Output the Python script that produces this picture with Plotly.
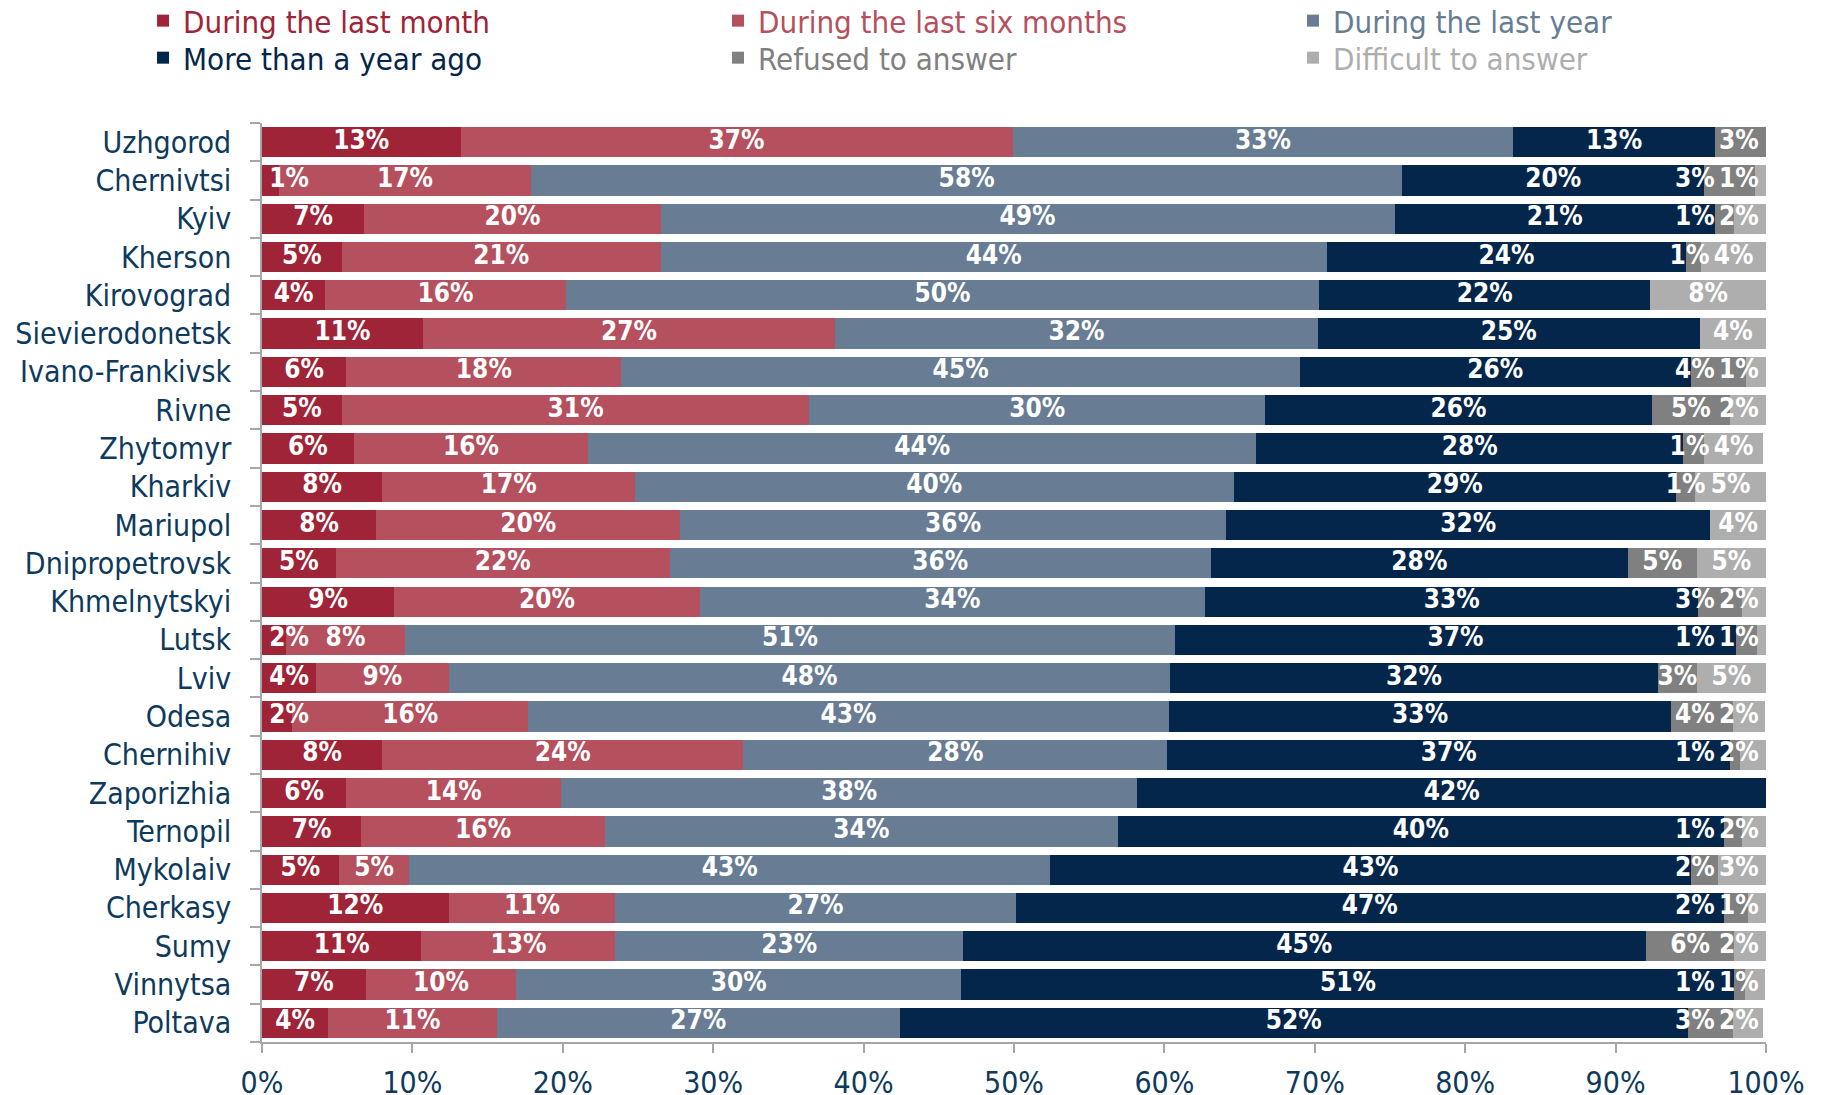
import plotly.graph_objects as go

cities = ["Uzhgorod", "Chernivtsi", "Kyiv", "Kherson", "Kirovograd", "Sievierodonetsk",
          "Ivano-Frankivsk", "Rivne", "Zhytomyr", "Kharkiv", "Mariupol", "Dnipropetrovsk",
          "Khmelnytskyi", "Lutsk", "Lviv", "Odesa", "Chernihiv", "Zaporizhia", "Ternopil",
          "Mykolaiv", "Cherkasy", "Sumy", "Vinnytsa", "Poltava"]

last_month = [13.2, 1.1, 6.8, 5.3, 4.2, 10.7, 5.6, 5.3, 6.1, 8.0, 7.6, 4.9,
              8.8, 1.6, 3.6, 2.0, 8.0, 5.6, 6.6, 5.1, 12.4, 10.6, 6.9, 4.4]
last_six_months = [36.7, 16.8, 19.7, 21.2, 16.0, 27.4, 18.3, 31.1, 15.6, 16.8, 20.2, 22.2,
                   20.3, 7.9, 8.8, 15.7, 24.0, 14.3, 16.2, 4.7, 11.1, 12.9, 10.0, 11.2]
last_year = [33.3, 57.9, 48.8, 44.3, 50.1, 32.1, 45.1, 30.3, 44.4, 39.8, 36.3, 36.0,
             33.6, 51.2, 48.0, 42.6, 28.2, 38.3, 34.1, 42.6, 26.6, 23.1, 29.6, 26.8]
more_than_year = [13.4, 20.1, 21.3, 23.9, 22.0, 25.4, 26.0, 25.7, 28.4, 29.4, 32.2, 27.7,
                  32.8, 37.3, 32.4, 33.4, 37.4, 41.8, 40.3, 42.6, 47.1, 45.4, 51.4, 52.4]
refused = [3.4, 3.4, 1.3, 1.0, 0, 0, 3.7, 5.2, 1.4, 1.3, 0, 4.6,
           2.9, 1.4, 2.6, 4.1, 0.7, 0, 1.2, 1.8, 1.6, 5.9, 0.7, 3.0]
difficult = [0, 0.7, 2.1, 4.3, 7.7, 4.4, 1.3, 2.4, 3.9, 4.7, 3.7, 4.6,
             1.6, 0.7, 4.6, 2.1, 1.7, 0, 1.6, 3.3, 1.3, 2.2, 1.3, 2.0]

series_names = ["During the last month", "During the last six months", "During the last year",
                "More than a year ago", "Refused to answer", "Difficult to answer"]
series_values = [last_month, last_six_months, last_year, more_than_year, refused, difficult]
colors = ["#A02437", "#B5505E", "#687D93", "#04264A", "#808080", "#AEAEAE"]

tick_vals = [0, 10, 20, 30, 40, 50, 60, 70, 80, 90, 100]
tick_text = [f"{v}%" for v in tick_vals]

FONT = "DejaVu Sans Condensed, DejaVu Sans, sans-serif"
LABEL_COLOR = "#0E3A5C"
LABEL_SIZE = 26

# legend grid: 3 columns x 2 rows (paper coordinates)
legend_x = [-0.0791, 0.3032, 0.6855]
legend_y = [1.111, 1.0707]

fig = go.Figure()
legend_layouts = {}
for i, (name, vals, col) in enumerate(zip(series_names, series_values, colors)):
    lid = "legend" if i == 0 else f"legend{i + 1}"
    fig.add_trace(go.Bar(
        y=cities, x=vals, name=name, orientation="h",
        marker=dict(color=col, line=dict(width=0)),
        hoverinfo="skip",
        legend=lid,
    ))
    legend_layouts[lid] = dict(
        orientation="v", x=legend_x[i % 3], xanchor="left",
        y=legend_y[i // 3], yanchor="middle",
        font=dict(family=FONT, size=31, color=col),
        bgcolor="rgba(0,0,0,0)",
    )


def label_width(txt):
    # approximate label width in axis units (% of the 1504 px wide plot)
    px = (len(txt) - 1) * 0.626 * LABEL_SIZE + 0.9 * LABEL_SIZE
    return px / 1504 * 100


# data labels drawn above all bars: centred in each segment, nudged apart
# near the right end so that neighbouring small labels do not collide
lab_x, lab_y, lab_t = [], [], []
for j, city in enumerate(cities):
    start = 0.0
    row = []
    for vals in series_values:
        v = vals[j]
        if v > 0:
            row.append([start + v / 2, f"{round(v)}%"])
        start += v
    nxt = None
    for item in reversed(row):
        c = min(item[0], 98.2)
        if nxt is not None:
            gap = (label_width(item[1]) + label_width(nxt[1])) / 2 + 0.3
            c = min(c, nxt[0] - gap)
        item[0] = c
        nxt = item
    row[0][0] = max(row[0][0], 1.8)
    for c, t in row:
        lab_x.append(c)
        lab_y.append(city)
        lab_t.append(t)

fig.add_trace(go.Scatter(
    x=lab_x, y=lab_y, text=lab_t, mode="text",
    textposition="middle center",
    textfont=dict(family=FONT, size=LABEL_SIZE, color="white", weight="bold"),
    cliponaxis=False, showlegend=False, hoverinfo="skip",
))

fig.update_layout(
    barmode="stack",
    bargap=0.21,
    width=1821, height=1095,
    margin=dict(l=254, r=63, t=115, b=61, autoexpand=False),
    paper_bgcolor="white", plot_bgcolor="white",
    font=dict(family=FONT, size=30, color=LABEL_COLOR),
    showlegend=True,
    xaxis=dict(
        range=[0, 100], tickvals=tick_vals, ticktext=tick_text,
        showgrid=False, zeroline=False,
        showline=True, linecolor="#A6A6A6", linewidth=2,
        ticks="outside", ticklen=9, tickcolor="#A6A6A6", tickwidth=1.5,
        ticklabelstandoff=4,
        tickfont=dict(family=FONT, size=30, color=LABEL_COLOR),
        automargin=False, fixedrange=True,
    ),
    yaxis=dict(
        categoryorder="array", categoryarray=cities,
        range=[len(cities) - 0.5, -0.5], autorange=False,
        tickmode="array", tickvals=cities,
        showgrid=False, zeroline=False,
        showline=True, linecolor="#A6A6A6", linewidth=1.5,
        ticks="outside", ticklen=10, tickcolor="#A6A6A6", tickwidth=1.5,
        tickson="boundaries", ticklabelstandoff=23,
        tickfont=dict(family=FONT, size=30, color=LABEL_COLOR),
        automargin=False, fixedrange=True,
    ),
    **legend_layouts,
)

fig.write_html("out.html")
